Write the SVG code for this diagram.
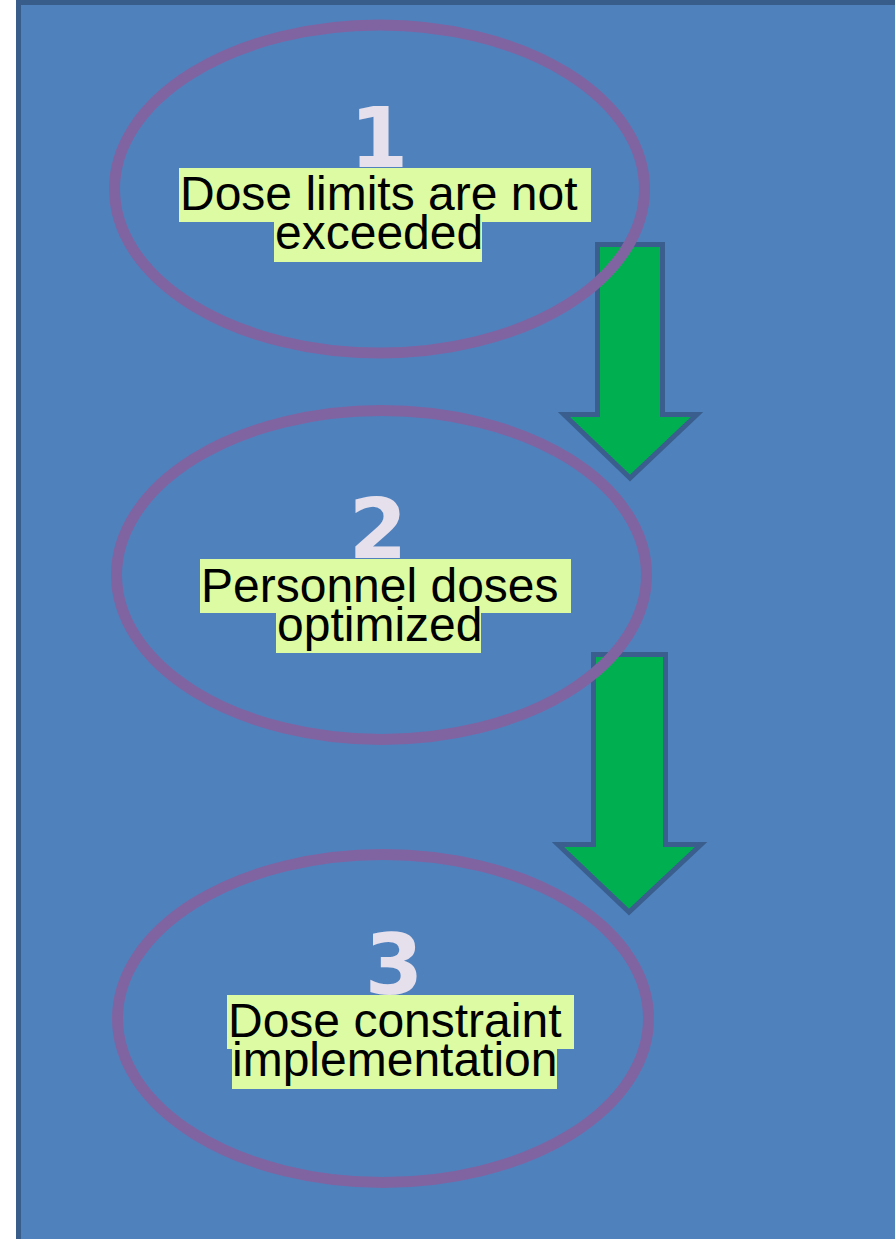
<svg xmlns="http://www.w3.org/2000/svg" width="895" height="1239" viewBox="0 0 895 1239">
<defs>
<style>
.bg{fill:#4f81bd;stroke:#385d8a;stroke-width:5}
.ring{fill:none;stroke:#8064a2;stroke-width:11}
.arrow{fill:#00b050;stroke:#3a5f8e;stroke-width:5;stroke-linejoin:miter}
.num{font-family:"DejaVu Sans",sans-serif;font-weight:bold;font-size:84px;fill:#e6e0ec;text-anchor:middle}
.hl{fill:#dcfba2}
.lbl{font-family:"Liberation Sans",Arial,sans-serif;font-size:48px;fill:#000}
</style>
</defs>
<rect width="895" height="1239" fill="#ffffff"/>
<rect class="bg" x="18.5" y="2.5" width="900" height="1260"/>
<g id="connectors">
<path class="arrow" d="M597.5 244.5 H662.5 V414.5 H697 L630 478 L564 414.5 H597.5 Z"/>
<path class="arrow" d="M593.5 654.5 H665.5 V844.5 H701 L629 912 L558 844.5 H593.5 Z"/>
</g>
<g id="node1">
<ellipse class="ring" cx="379.5" cy="189" rx="265" ry="164"/>
<text class="num" x="379" y="167">1</text>
<rect class="hl" x="179" y="168" width="412" height="54"/>
<rect class="hl" x="274" y="222" width="208" height="40"/>
<text class="lbl" x="180" y="210">Dose limits are not </text>
<text class="lbl" x="275" y="249">exceeded</text>
</g>
<g id="node2">
<ellipse class="ring" cx="381.5" cy="575" rx="265" ry="164.5"/>
<text class="num" x="378" y="558">2</text>
<rect class="hl" x="200" y="559" width="371" height="54"/>
<rect class="hl" x="276" y="613" width="205" height="40"/>
<text class="lbl" x="201" y="602">Personnel doses </text>
<text class="lbl" x="277" y="641">optimized</text>
</g>
<g id="node3">
<ellipse class="ring" cx="383" cy="1018.5" rx="265.5" ry="164"/>
<text class="num" x="394" y="994">3</text>
<rect class="hl" x="227" y="995" width="347" height="54"/>
<rect class="hl" x="232" y="1049" width="325" height="40"/>
<text class="lbl" x="228" y="1037">Dose constraint </text>
<text class="lbl" x="232" y="1076">implementation</text>
</g>
</svg>
